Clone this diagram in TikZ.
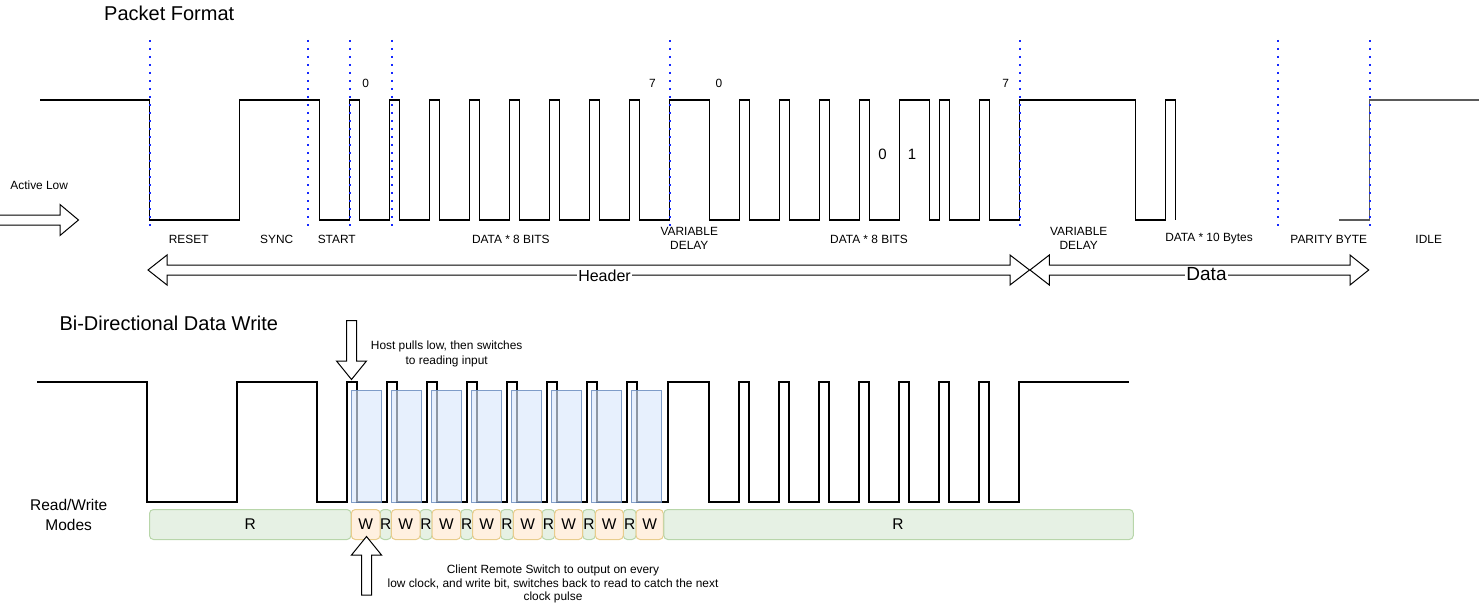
\documentclass[tikz,border=0pt]{standalone}
\usepackage{fontspec}
\setmainfont{Liberation Sans}
\definecolor{dotblue}{RGB}{20,40,255}
\definecolor{boxfill}{RGB}{218,232,252}
\definecolor{boxline}{RGB}{108,142,191}
\definecolor{rfill}{RGB}{230,241,228}
\definecolor{rline}{RGB}{184,214,170}
\definecolor{wfill}{RGB}{255,240,224}
\definecolor{wline}{RGB}{232,204,140}
\definecolor{idlegray}{RGB}{90,90,90}
\newcommand\fsz[2]{\fontsize{#1}{#2}\selectfont}
\begin{document}
\begin{tikzpicture}[x=1pt,y=-1pt,
  wave/.style={line width=1.1pt,black,line join=miter},
  idleline/.style={line width=1.4pt,idlegray},
  dotline/.style={line width=2.1pt,draw=dotblue,dash pattern=on 2.1pt off 5.9pt},
  blockarrow/.style={draw=black,fill=white,line width=1pt,line join=miter},
  small/.style={font=\fsz{11.9}{14.5},inner sep=0pt,align=center},
  title/.style={font=\fsz{20}{24},inner sep=0pt},
  rwbox/.style={line width=1pt,rounded corners=4pt},
  rbox/.style={rwbox,draw=rline,fill=rfill},
  wbox/.style={rwbox,draw=wline,fill=wfill},
  modetext/.style={font=\fsz{15.5}{20},inner sep=0pt},
  clkbox/.style={draw=boxline,fill=boxfill,fill opacity=0.65,draw opacity=0.85,line width=1pt}]
\useasboundingbox (0,0) rectangle (1482,607);

% ---------------- Titles ----------------
\node[title] (t1) at (169.2,13) {Packet Format};
\node[title] (t2) at (168.8,323.3) {Bi-Directional Data Write};

% ---------------- Top waveform ----------------
\draw[wave] (40,100) -- (149.5,100) -- (149.5,220) -- (239.5,220) -- (239.5,100)
  -- (319.5,100) -- (319.5,220) -- (349.5,220)
  \foreach \a in {349.5,389.5,429.5,469.5,509.5,549.5,589.5,629.5}
    { -- (\a,220) -- (\a,100) -- ++(10,0) -- ++(0,120) }
  -- (669.5,220) -- (669.5,100) -- (709.5,100) -- (709.5,220)
  \foreach \a/\w in {739.5/10,779.5/10,819.5/10,859.5/10,899.5/30,939.5/10,979.5/10}
    { -- (\a,220) -- (\a,100) -- ++(\w,0) -- ++(0,120) }
  -- (1019.5,220) -- (1019.5,100) -- (1135.5,100) -- (1135.5,220) -- (1165.5,220)
  -- (1165.5,100) -- (1175.5,100) -- (1175.5,220);
\draw[idleline] (1339,220) -- (1369.5,220) -- (1369.5,100) -- (1479,100);

% dotted markers
\foreach \x in {149.5,307.5,349.5,391.5,669.5,1019.5,1277.5,1369.5}
  \draw[dotline] (\x+0.5,40) -- (\x+0.5,226);

% bit labels
\node[small] (b0a) at (365.7,83) {0};
\node[small] (b7a) at (652.5,83) {7};
\node[small] (b0b) at (719,83) {0};
\node[small] (b7b) at (1005.7,83) {7};
\node[font=\fsz{15}{18},inner sep=0pt] (zero) at (882.5,154.5) {0};
\node[font=\fsz{15}{18},inner sep=0pt] (one) at (912,154.5) {1};

% section labels
\node[small] (lreset) at (188.7,239) {RESET};
\node[small] (lsync) at (276.7,239) {SYNC};
\node[small] (lstart) at (336.7,239) {START};
\node[small] (ldata1) at (510.8,239) {DATA * 8 BITS};
\node[small] (ldelay1) at (689.3,238.5) {VARIABLE\\DELAY};
\node[small] (ldata2) at (869,239) {DATA * 8 BITS};
\node[small] (ldelay2) at (1078.7,238.5) {VARIABLE\\DELAY};
\node[small] (ldata3) at (1209,239) {DATA * 10 Bytes};
\node[small] (lparity) at (1328.7,239) {PARITY BYTE};
\node[small] (lidle) at (1428.7,239) {IDLE};

% Active low arrow
\node[small] (alow) at (39.2,185.7) {Active Low};
\draw[blockarrow] (0,215) -- (60,215) -- (60,204.5) -- (78.5,220) -- (60,235.5) -- (60,225) -- (0,225);

% Header / Data arrows
\draw[blockarrow] (148,270) -- (167,255) -- (167,265) -- (1010,265) -- (1010,255) -- (1029.5,270)
  -- (1010,285) -- (1010,275) -- (167,275) -- (167,285) -- cycle;
\draw[blockarrow] (1030,270) -- (1049.3,255) -- (1049.3,265) -- (1350,265) -- (1350,255) -- (1368.7,270)
  -- (1350,285) -- (1350,275) -- (1049.3,275) -- (1049.3,285) -- cycle;
\node[font=\fsz{16}{18},fill=white,inner sep=1.2pt] (hdr) at (604.5,275.5) {Header};
\node[font=\fsz{19}{22},fill=white,inner sep=1.2pt] (dat) at (1206.5,274.5) {Data};

% ---------------- Bottom waveform ----------------
\draw[wave] (37,382) -- (147,382) -- (147,502) -- (237,502) -- (237,382) -- (317,382) -- (317,502)
  \foreach \a in {347,387,427,467,507,547,587,627}
    { -- (\a,502) -- (\a,382) -- ++(10,0) -- ++(0,120) }
  -- (668,502) -- (668,382) -- (709,382) -- (709,502)
  \foreach \a in {739,779,819,859,899,939,979}
    { -- (\a,502) -- (\a,382) -- ++(10,0) -- ++(0,120) }
  -- (1019,502) -- (1019,382) -- (1129,382);

% write windows
\foreach \k in {0,...,7}
  \draw[clkbox] ({351.3+40*\k},390.3) rectangle ++(30.3,112);

% Read/Write modes row
\node[font=\fsz{15.5}{20},align=center,inner sep=0pt] (rwlabel) at (68.7,515) {Read/Write\\Modes};
\draw[rbox] (149.5,509.5) rectangle (351,539.5);
\node[modetext] (rbig1) at (250.3,524.5) {R};
\foreach \s/\e [count=\i] in {380/391.3,420/432,460.7/472.7,500.7/513.3,542/554.7,582.7/595.3,623.3/636}
  {\draw[rbox] (\s,509.5) rectangle (\e,539.5);
   \node[modetext] (rs\i) at ({(\s+\e)/2},524.5) {R};}
\foreach \s/\e [count=\i] in {351.3/380,391.3/420,432/460.7,472.7/500.7,513.3/542,554.7/582.7,595.3/623.3,636/663.3}
  {\draw[wbox] (\s,509.5) rectangle (\e,539.5);
   \node[modetext] (w\i) at ({(\s+\e)/2},524.5) {W};}
\draw[rbox] (663.8,509.5) rectangle (1133.3,539.5);
\node[modetext] (rbig2) at (898,524.5) {R};

% Host arrow and note
\draw[blockarrow] (346.5,320.7) -- (356.5,320.7) -- (356.5,361) -- (366.5,361) -- (351.5,379.5)
  -- (336.5,361) -- (346.5,361) -- cycle;
\node[font=\fsz{11.9}{15},align=center,inner sep=0pt] (host) at (446.7,353.5)
  {Host pulls low, then switches\\to reading input};

% Client arrow and note
\draw[blockarrow] (361.5,595) -- (371.5,595) -- (371.5,555) -- (381.5,555) -- (366.5,536.5)
  -- (351.5,555) -- (361.5,555) -- cycle;
\node[font=\fsz{11.9}{13.6},align=center,inner sep=0pt] (client) at (553,584)
  {Client Remote Switch to output on every\\low clock, and write bit, switches back to read to catch the next\\clock pulse};
\end{tikzpicture}
\end{document}
